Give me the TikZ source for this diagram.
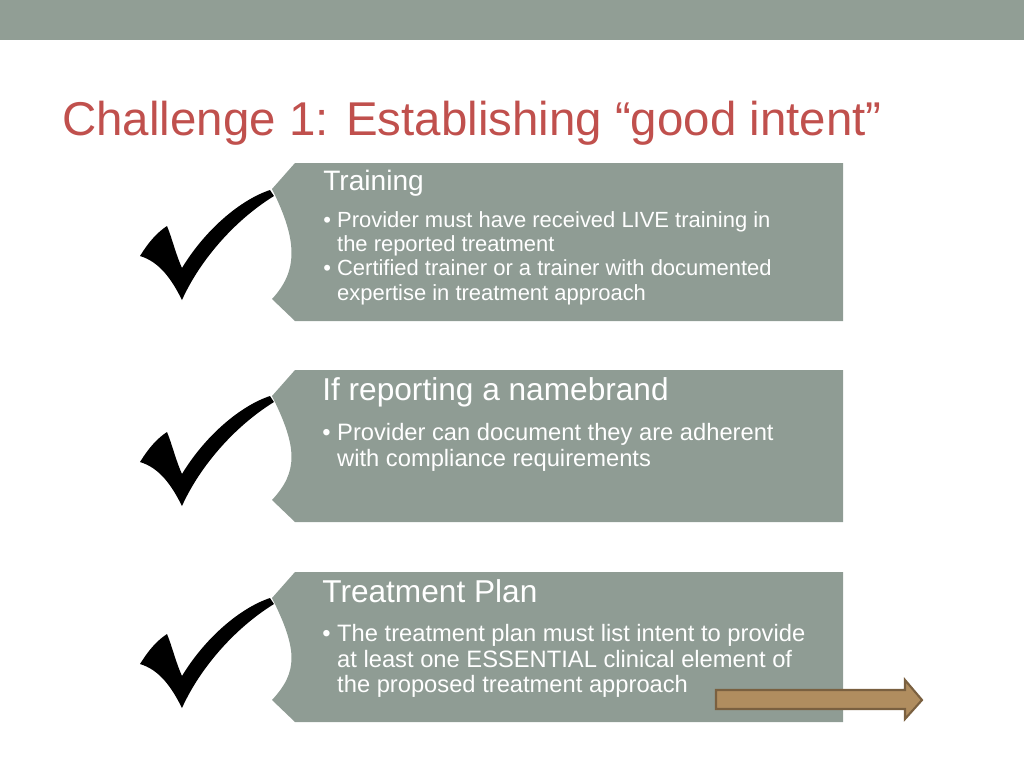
\documentclass[tikz,border=0pt]{standalone}
\usepackage{fontspec}
\setmainfont{Liberation Sans}
\definecolor{band}{HTML}{919E95}
\definecolor{boxc}{HTML}{8F9C94}
\definecolor{ttl}{HTML}{C0504D}
\definecolor{tan}{HTML}{B08D5F}
\definecolor{tanb}{HTML}{7A6040}
\tikzset{
 panel/.style={fill=boxc,draw=none},
 head/.style={anchor=north west,text=white,inner sep=0pt,align=left},
 chk/.style={fill=black,draw=none}
}
\newcommand{\panelshape}[2]{% top y, bottom y
 \path[panel] (295,#1) -- (843,#1) -- (843,#2) -- (295,#2) -- (272,#2-22)
   .. controls (298,#2-50) and (298,#1+78) .. (272,#1+26) -- cycle;}
\newcommand{\checkmark}[1]{% offset y
 \path[chk] (140,#1+256) .. controls (150,#1+240) and (158,#1+232) .. (167,#1+226)
   .. controls (172,#1+238) and (176,#1+255) .. (182,#1+268)
   .. controls (205,#1+230) and (240,#1+200) .. (270,#1+190)
   -- (274,#1+196)
   .. controls (235,#1+220) and (200,#1+260) .. (182,#1+300)
   .. controls (172,#1+280) and (160,#1+262) .. (140,#1+256) -- cycle;}
\begin{document}
\begin{tikzpicture}[x=0.02cm,y=-0.02cm]
\useasboundingbox (0,0) rectangle (1024,768);
\fill[band] (0,0) rectangle (1024,40);
\node[anchor=base west,inner sep=0pt,text=ttl,font=\fontsize{27}{30}\selectfont] (title) at (62,135) {Challenge 1: Establishing “good intent”};
\panelshape{163}{321}
\panelshape{370}{522}
\panelshape{572}{722}
\checkmark{0}
\checkmark{206}
\checkmark{408}
\node[head,font=\fontsize{16}{18}\selectfont] (t1) at (323,170) {Training};
\node[head,font=\fontsize{12.5}{13.8}\selectfont] (b1) at (323,211) {\textbullet\ Provider must have received LIVE training in\\\hphantom{\textbullet\ }the reported treatment\\\textbullet\ Certified trainer or a trainer with documented\\\hphantom{\textbullet\ }expertise in treatment approach};
\node[head,font=\fontsize{18}{20}\selectfont] (t2) at (322,377) {If reporting a namebrand};
\node[head,font=\fontsize{13.5}{14.5}\selectfont] (b2) at (322,423) {\textbullet\ Provider can document they are adherent\\\hphantom{\textbullet\ }with compliance requirements};
\node[head,font=\fontsize{18}{20}\selectfont] (t3) at (322,579) {Treatment Plan};
\node[head,font=\fontsize{13.5}{14.5}\selectfont] (b3) at (322,624) {\textbullet\ The treatment plan must list intent to provide\\\hphantom{\textbullet\ }at least one ESSENTIAL clinical element of\\\hphantom{\textbullet\ }the proposed treatment approach};
\path[fill=tan,draw=tanb,line width=1.2pt] (716,690) -- (905,690) -- (905,680) -- (922,700) -- (905,719) -- (905,709) -- (716,709) -- cycle;
\end{tikzpicture}
\end{document}
